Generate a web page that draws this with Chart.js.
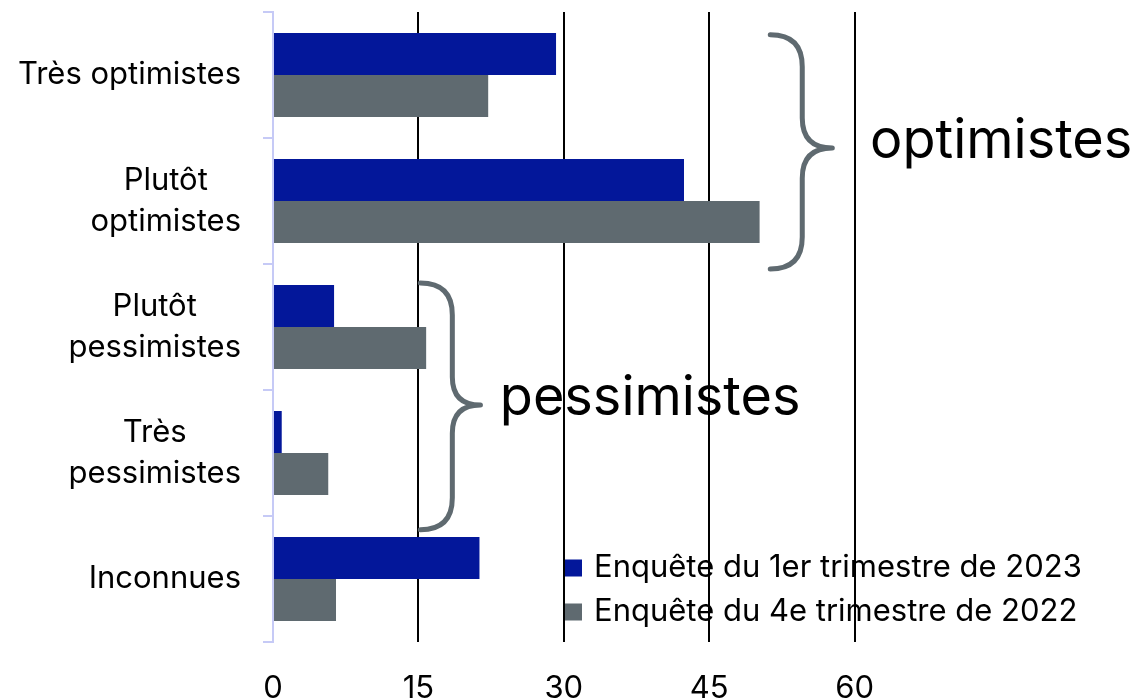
<!DOCTYPE html>
<html><head><meta charset="utf-8">
<script src="https://cdn.jsdelivr.net/npm/chart.js@4/dist/chart.umd.min.js"></script>
<style>html,body{margin:0;padding:0;background:#fff}#wrap{width:1138px;height:700px}</style>
</head><body><div id="wrap"><canvas id="c"></canvas></div>
<script>
const categories = ['Très optimistes', ['Plutôt', 'optimistes'], ['Plutôt', 'pessimistes'], ['Très', 'pessimistes'], 'Inconnues'];
const seriesLabels = ['Enquête du 1er trimestre de 2023', 'Enquête du 4e trimestre de 2022'];
const q1_2023 = [29.2, 42.4, 6.3, 0.9, 21.3];
const q4_2022 = [22.2, 50.2, 15.8, 5.7, 6.5];
const xTicks = [0, 15, 30, 45, 60];
// braces: value-unit x positions, category-index y positions
const braces = [
  {label: 'optimistes', xEnd: 51.3, xMid: 54.6, xTip: 57.7, yTop: -0.32, yTip: 0.58, yBot: 1.54, textX: 61.6},
  {label: 'pessimistes', xEnd: 15.2, xMid: 18.5, xTip: 21.4, yTop: 1.65, yTip: 2.62, yBot: 3.61, textX: 23.4}
];

const FONT = 'Inter';
const BLUE = '#03179a', GREY = '#5f6a70', LAV = '#c6caf6';

const custom = {
  id: 'custom',
  afterDraw(chart) {
    const ctx = chart.ctx, xs = chart.scales.x, ys = chart.scales.y, ca = chart.chartArea;
    ctx.save();
    // y labels
    ctx.font = '31px ' + FONT; ctx.fillStyle = '#000'; ctx.textAlign = 'center'; ctx.textBaseline = 'middle';
    const rightEdge = ca.left - 32;
    categories.forEach((lab, i) => {
      const lines = Array.isArray(lab) ? lab : [lab];
      const w = Math.max(...lines.map(l => ctx.measureText(l).width));
      const cx = rightEdge - w / 2, cy = ys.getPixelForValue(i);
      lines.forEach((l, j) => ctx.fillText(l, cx, cy + (j - (lines.length - 1) / 2) * 41));
    });
    // braces
    const ypix = v => { const a = ys.getPixelForValue(0), b = ys.getPixelForValue(1); return a + (b - a) * v; };
    ctx.strokeStyle = GREY; ctx.lineWidth = 5; ctx.lineCap = 'round'; ctx.lineJoin = 'round';
    braces.forEach(b => {
      const xe = xs.getPixelForValue(b.xEnd), xm = xs.getPixelForValue(b.xMid), xt = xs.getPixelForValue(b.xTip);
      const yt = ypix(b.yTop), yc = ypix(b.yTip), yb = ypix(b.yBot);
      const r = (xm - xe) * 1.0, r2 = (xt - xm) * 1.0;
      ctx.beginPath();
      ctx.moveTo(xe, yt);
      ctx.quadraticCurveTo(xm, yt, xm, yt + r);
      ctx.lineTo(xm, yc - r2);
      ctx.quadraticCurveTo(xm, yc, xt, yc);
      ctx.quadraticCurveTo(xm, yc, xm, yc + r2);
      ctx.lineTo(xm, yb - r);
      ctx.quadraticCurveTo(xm, yb, xe, yb);
      ctx.stroke();
      ctx.font = '54px ' + FONT; ctx.fillStyle = '#000'; ctx.textAlign = 'left'; ctx.textBaseline = 'middle';
      ctx.fillText(b.label, xs.getPixelForValue(b.textX), yc - 6);
    });
    // legend
    const colors = [BLUE, GREY];
    ctx.font = '31px ' + FONT; ctx.textAlign = 'left'; ctx.textBaseline = 'middle';
    seriesLabels.forEach((l, i) => {
      const y = ca.top + 556 + i * 44, x = ca.left + 292;
      ctx.fillStyle = colors[i]; ctx.fillRect(x, y - 8.5, 17, 17);
      ctx.fillStyle = '#000'; ctx.fillText(l, x + 29, y);
    });
    ctx.restore();
  }
};

new Chart(document.getElementById('c'), {
  type: 'bar',
  data: {
    labels: categories,
    datasets: [
      {label: seriesLabels[0], data: q1_2023, backgroundColor: BLUE, categoryPercentage: 0.667, barPercentage: 1},
      {label: seriesLabels[1], data: q4_2022, backgroundColor: GREY, categoryPercentage: 0.667, barPercentage: 1}
    ]
  },
  options: {
    indexAxis: 'y', responsive: true, maintainAspectRatio: false, animation: false,
    layout: {padding: {top: 12, right: 138, left: 0, bottom: 0}},
    plugins: {legend: {display: false}, tooltip: {enabled: false}},
    scales: {
      x: {
        min: 0, max: 75,
        afterBuildTicks: s => { s.ticks = xTicks.map(v => ({value: v})); },
        afterFit: s => { s.height = 58; },
        border: {display: false},
        grid: {color: c => c.tick && c.tick.value === 0 ? 'rgba(0,0,0,0)' : '#000', lineWidth: 2, drawTicks: false},
        ticks: {font: {family: FONT, size: 31}, color: '#000', padding: 28, maxRotation: 0}
      },
      y: {
        afterFit: s => { s.width = 273; },
        border: {display: true, color: LAV, width: 2},
        grid: {drawOnChartArea: false, drawTicks: true, tickLength: 10, color: LAV, lineWidth: 2},
        ticks: {color: 'rgba(0,0,0,0)', font: {family: FONT, size: 1}}
      }
    }
  },
  plugins: [custom]
});
</script></body></html>
